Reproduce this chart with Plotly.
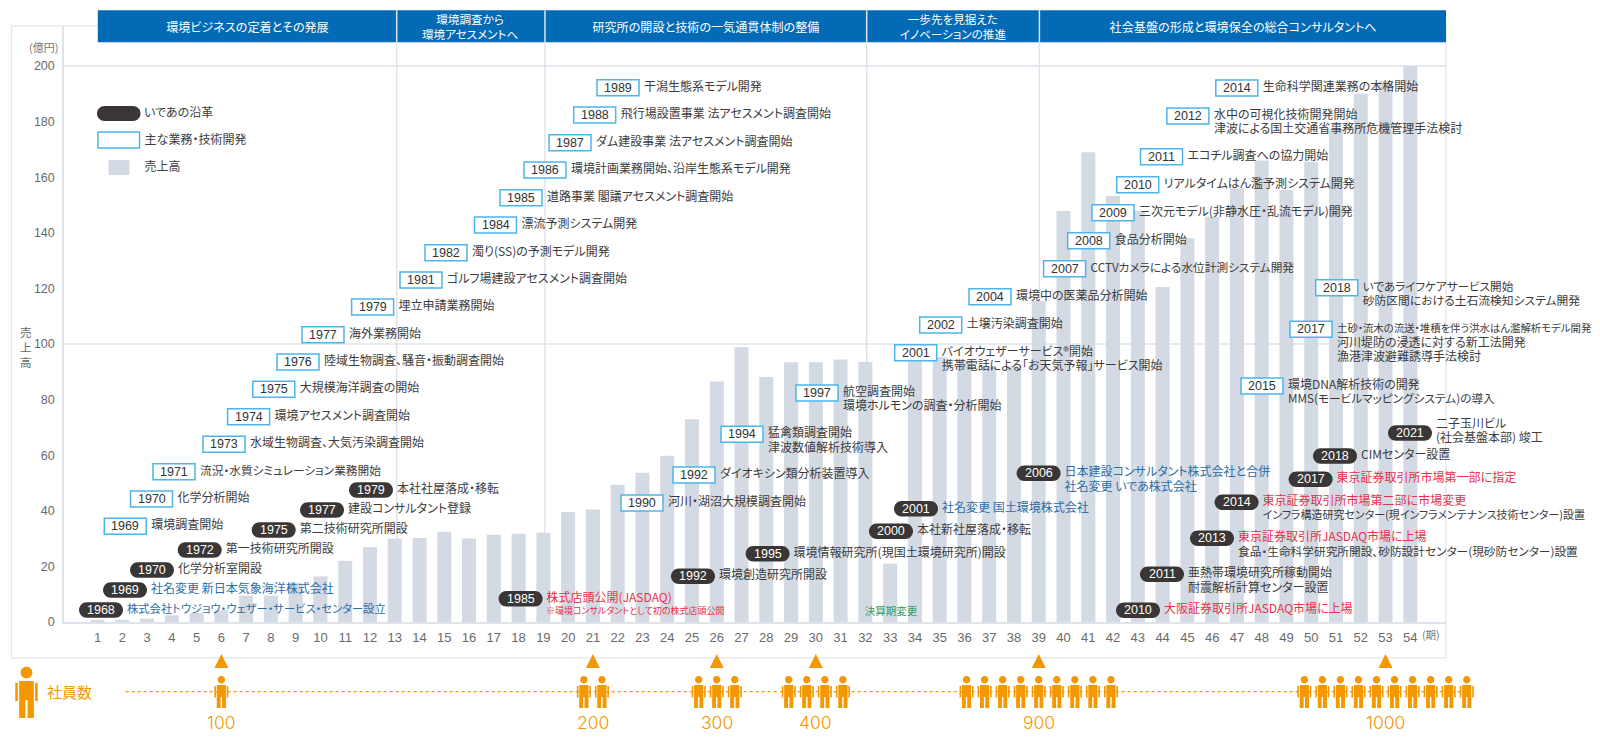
import plotly.graph_objects as go

# ---------- data ----------
PERIODS = list(range(1, 55))
SALES = [0.4, 0.8, 1.2, 2.4, 3.2, 4.2, 9.5, 9.5, 14.1, 16.4, 22, 26.9, 30, 30.2, 32.5, 30, 31.4, 31.7,
         32.1, 39.6, 40.5, 49.4, 53.7, 59.8, 72.9, 86.5, 98.8, 88.1, 93.4, 93.4, 94.4, 93.5, 21,
         96, 95.3, 94, 92, 92, 115.5, 147.8, 169, 153.2, 147.8, 120.5, 138, 145.8, 156, 166, 155.4,
         165.6, 177, 190, 194.6, 200]
Y_TICKS = [0, 20, 40, 60, 80, 100, 120, 140, 160, 180, 200]
GRID_VALUES = [100, 200]
EMPLOYEES = [100, 200, 300, 400, 900, 1000]
EMPLOYEE_PERIODS = [6, 21, 26, 30, 39, 53]

ERA_TITLES = ["環境ビジネスの定着とその発展", "環境調査から<br>環境アセスメントへ",
              "研究所の開設と技術の一気通貫体制の整備", "一歩先を見据えた<br>イノベーションの推進",
              "社会基盤の形成と環境保全の総合コンサルタントへ"]
ERA_EDGES = [97.8, 396.7, 545, 866.7, 1039.4, 1446]

BOX_YEARS = ["1969", "1970", "1971", "1973", "1974", "1975", "1976", "1977", "1979", "1981", "1982", "1984",
             "1985", "1986", "1987", "1988", "1989", "1990", "1992", "1994", "1997", "2001", "2002", "2004",
             "2007", "2008", "2009", "2010", "2011", "2012", "2014", "2015", "2017", "2018"]
BOX_LEFT = [104.3, 130.5, 153, 203, 227.6, 252.8, 277, 302, 351.6, 400, 425, 474.5,
            500, 524, 549, 573.7, 597, 621, 673, 721, 796, 894.7, 919.7, 969,
            1043.6, 1067.7, 1092, 1116.7, 1140.5, 1166.9, 1215.8, 1241, 1290, 1315.7]
BOX_Y = [526.3, 499, 471.7, 444.3, 416.7, 389.3, 362, 334.7, 307, 280, 252.7, 225,
         197.7, 170, 142.7, 115, 87.7, 503, 475, 434.3, 393, 352.7, 325, 296.7,
         268.7, 240.7, 212.7, 184.7, 156.7, 116, 88, 386, 329.3, 287.7]
BOX_TEXT = [["環境調査開始"], ["化学分析開始"], ["流況・水質シミュレーション業務開始"], ["水域生物調査、大気汚染調査開始"],
            ["環境アセスメント調査開始"], ["大規模海洋調査の開始"], ["陸域生物調査、騒音・振動調査開始"], ["海外業務開始"],
            ["埋立申請業務開始"], ["ゴルフ場建設アセスメント調査開始"], ["濁り(SS)の予測モデル開発"], ["漂流予測システム開発"],
            ["道路事業 閣議アセスメント調査開始"], ["環境計画業務開始、沿岸生態系モデル開発"], ["ダム建設事業 法アセスメント調査開始"],
            ["飛行場設置事業 法アセスメント調査開始"], ["干潟生態系モデル開発"], ["河川・湖沼大規模調査開始"],
            ["ダイオキシン類分析装置導入"], ["猛禽類調査開始", "津波数値解析技術導入"], ["航空調査開始", "環境ホルモンの調査・分析開始"],
            ["バイオウェザーサービス®開始", "携帯電話による「お天気予報」サービス開始"], ["土壌汚染調査開始"], ["環境中の医薬品分析開始"],
            ["CCTVカメラによる水位計測システム開発"], ["食品分析開始"], ["三次元モデル(非静水圧・乱流モデル)開発"],
            ["リアルタイムはん濫予測システム開発"], ["エコチル調査への協力開始"],
            ["水中の可視化技術開発開始", "津波による国土交通省事務所危機管理手法検討"], ["生命科学関連業務の本格開始"],
            ["環境DNA解析技術の開発", "MMS(モービルマッピングシステム)の導入"],
            ["土砂・流木の流送・堆積を伴う洪水はん濫解析モデル開発", "河川堤防の浸透に対する新工法開発", "漁港津波避難誘導手法検討"],
            ["いであライフケアサービス開始", "砂防区間における土石流検知システム開発"]]

PILL_YEARS = ["1968", "1969", "1970", "1972", "1975", "1977", "1979", "1985", "1992", "1995", "2000", "2001",
              "2006", "2010", "2011", "2013", "2014", "2017", "2018", "2021"]
PILL_LEFT = [79, 103, 130, 177.7, 251.7, 300, 349, 498.6, 671, 745.6, 869, 894,
             1016.6, 1116, 1140, 1190, 1214.6, 1288.6, 1313, 1388]
PILL_Y = [610, 590, 570, 550, 530, 510, 490, 598.7, 576.3, 553.7, 531.3, 508.7,
          473.3, 610.3, 574.3, 538.3, 502.3, 479.3, 456, 433]
PILL_TEXT = [["株式会社トウジョウ・ウェザー・サービス・センター設立"], ["社名変更 新日本気象海洋株式会社"], ["化学分析室開設"],
             ["第一技術研究所開設"], ["第二技術研究所開設"], ["建設コンサルタント登録"], ["本社社屋落成・移転"],
             ["株式店頭公開(JASDAQ)"], ["環境創造研究所開設"], ["環境情報研究所(現国土環境研究所)開設"],
             ["本社新社屋落成・移転"], ["社名変更 国土環境株式会社"],
             ["日本建設コンサルタント株式会社と合併", "社名変更 いであ株式会社"],
             ["大阪証券取引所JASDAQ市場に上場"], ["亜熱帯環境研究所稼動開始", "耐震解析計算センター設置"],
             ["東京証券取引所JASDAQ市場に上場", "食品・生命科学研究所開設、砂防設計センター(現砂防センター)設置"],
             ["東京証券取引所市場第二部に市場変更", "インフラ構造研究センター(現インフラメンテナンス技術センター)設置"],
             ["東京証券取引所市場第一部に指定"], ["CIMセンター設置"], ["二子玉川ビル", "(社会基盤本部) 竣工"]]
DARK, BLUE, RED, GREEN = "#3c3c3c", "#2b6ea8", "#e8304a", "#2f9e62"
PILL_COLORS = [[BLUE], [BLUE], [DARK], [DARK], [DARK], [DARK], [DARK], [RED], [DARK], [DARK], [DARK], [BLUE],
               [BLUE, BLUE], [RED], [DARK, DARK], [RED, DARK], [RED, DARK], [RED], [DARK], [DARK, DARK]]
# lines whose kana-heavy setting runs wider than the default size
SIZE_OVERRIDE = {"株式会社トウジョウ・ウェザー・サービス・センター設立": 11.3,
                 "土砂・流木の流送・堆積を伴う洪水はん濫解析モデル開発": 10.4,
                 "インフラ構造研究センター(現インフラメンテナンス技術センター)設置": 11.0,
                 "食品・生命科学研究所開設、砂防設計センター(現砂防センター)設置": 11.7,
                 "CCTVカメラによる水位計測システム開発": 11.7,
                 "MMS(モービルマッピングシステム)の導入": 11.7,
                 "砂防区間における土石流検知システム開発": 11.8,
                 "いであライフケアサービス開始": 11.6,
                 "流況・水質シミュレーション業務開始": 11.7}

# ---------- geometry ----------
L, R, T, B = 64, 1446, 26, 622
PX0, PX_STEP, PX_PER_UNIT = 97.5, 24.77, 2.78
ORANGE = "#f39800"
LAV = "#dfe3ec"
PANEL = "#e8eaef"
PILLC = "#3a3635"
BOXC = "#4cb5ec"
JP = "Noto Sans CJK JP"
NUM = "Liberation Sans"
BASE = 12.0


def X(px):
    return (px - L) / (R - L)


def Y(py):
    return (B - py) / (B - T)


def dx(px):
    return 1 + (px - PX0) / PX_STEP


def dy(py):
    return (B - py) / PX_PER_UNIT


def P(px, py):
    return f"{X(px):.6f},{Y(py):.6f}"


def pill_path(x0, x1, yc, h=15.5):
    r = h / 2
    k = r * 0.5523
    t, b = yc - r, yc + r
    return (f"M{P(x0 + r, t)} L{P(x1 - r, t)} C{P(x1 - r + k, t)} {P(x1, yc - k)} {P(x1, yc)} "
            f"C{P(x1, yc + k)} {P(x1 - r + k, b)} {P(x1 - r, b)} L{P(x0 + r, b)} "
            f"C{P(x0 + r - k, b)} {P(x0, yc + k)} {P(x0, yc)} C{P(x0, yc - k)} {P(x0 + r - k, t)} {P(x0 + r, t)} Z")


def rect_path(x0, x1, y0, y1):
    return f"M{P(x0, y0)} L{P(x1, y0)} L{P(x1, y1)} L{P(x0, y1)} Z"


def person_path(cx, top, s=1.0):
    r = 3.7 * s
    hy = top + r
    k = r * 0.5523
    head = (f"M{P(cx, hy - r)} C{P(cx + k, hy - r)} {P(cx + r, hy - k)} {P(cx + r, hy)} "
            f"C{P(cx + r, hy + k)} {P(cx + k, hy + r)} {P(cx, hy + r)} "
            f"C{P(cx - k, hy + r)} {P(cx - r, hy + k)} {P(cx - r, hy)} "
            f"C{P(cx - r, hy - k)} {P(cx - k, hy - r)} {P(cx, hy - r)} Z")
    pts = [(-4.6, 9), (4.6, 9), (4.6, 32), (0.7, 32), (0.7, 21), (-0.7, 21), (-0.7, 32), (-4.6, 32)]
    body = "M" + " L".join(P(cx + a * s, top + b * s) for a, b in pts) + " Z"
    arm_l = rect_path(cx - 7 * s, cx - 5.4 * s, top + 10 * s, top + 21.5 * s)
    arm_r = rect_path(cx + 5.4 * s, cx + 7 * s, top + 10 * s, top + 21.5 * s)
    return " ".join([head, body, arm_l, arm_r])


shapes = []
annotations = []
tx, ty, tt, tc, ts = [], [], [], [], []


def left_text(px, py, text, color=DARK, size=None):
    tx.append(dx(px)); ty.append(dy(py)); tt.append(text); tc.append(color)
    ts.append(size or SIZE_OVERRIDE.get(text, BASE))


def note(px, py, text, color, size=12.5, family=NUM, anchor="center", weight=None):
    f = dict(family=family, size=size, color=color)
    if weight:
        f["weight"] = weight
    annotations.append(dict(xref="paper", yref="paper", x=X(px), y=Y(py), text=text, showarrow=False,
                            font=f, xanchor=anchor, yanchor="middle"))


def line(x0, y0, x1, y1, color, width, dash=None):
    shapes.append(dict(type="line", xref="paper", yref="paper", x0=X(x0), y0=Y(y0), x1=X(x1), y1=Y(y1),
                       layer="below", line=dict(color=color, width=width, dash=dash or "solid")))


def fill_path(path, color, layer="above", lc=None, lw=0):
    shapes.append(dict(type="path", xref="paper", yref="paper", path=path, fillcolor=color, layer=layer,
                       line=dict(color=lc or color, width=lw)))


# outer panel
shapes.append(dict(type="rect", xref="paper", yref="paper", x0=X(11.4), x1=X(R), y0=Y(658), y1=Y(T),
                   layer="below", line=dict(color=PANEL, width=1.5), fillcolor="rgba(0,0,0,0)"))
# grid lines
for v in GRID_VALUES:
    py = B - v * PX_PER_UNIT
    line(L, py, R, py, LAV, 1.5)
# era bands and titles
for i, title in enumerate(ERA_TITLES):
    a, b = ERA_EDGES[i], ERA_EDGES[i + 1]
    shapes.append(dict(type="rect", xref="paper", yref="paper", x0=X(a), x1=X(b), y0=Y(42.3), y1=Y(10.3),
                       layer="below", fillcolor="#036ab5", line=dict(width=0)))
    note((a + b) / 2, 26.5, title, "white", 11.6 if "<br>" in title else 12.1, JP)
for e in ERA_EDGES[1:-1]:
    line(e, 10.3, e, B, LAV, 1.5)

# legend
fill_path(pill_path(97, 140.5, 113.5, 15), PILLC)
left_text(144, 114, "いであの沿革")
shapes.append(dict(type="rect", xref="paper", yref="paper", x0=X(98), x1=X(139.5), y0=Y(148), y1=Y(132),
                   layer="above", fillcolor="white", line=dict(color=BOXC, width=1.5)))
left_text(144.6, 141, "主な業務・技術開発")
shapes.append(dict(type="rect", xref="paper", yref="paper", x0=X(108.5), x1=X(129.5), y0=Y(175), y1=Y(160),
                   layer="below", fillcolor="#d3dae4", line=dict(width=0)))
left_text(144.6, 168, "売上高")

# milestone boxes
for yr, lf, yy, lines in zip(BOX_YEARS, BOX_LEFT, BOX_Y, BOX_TEXT):
    shapes.append(dict(type="rect", xref="paper", yref="paper", x0=X(lf), x1=X(lf + 42), y0=Y(yy + 8), y1=Y(yy - 8),
                       layer="above", fillcolor="white", line=dict(color=BOXC, width=1.5)))
    note(lf + 21, yy, yr, "#333333")
    for j, s in enumerate(lines):
        left_text(lf + 47, yy + j * 14.4, s)

# milestone pills
for yr, lf, yy, lines, cols in zip(PILL_YEARS, PILL_LEFT, PILL_Y, PILL_TEXT, PILL_COLORS):
    fill_path(pill_path(lf, lf + 44, yy), PILLC)
    note(lf + 22, yy, yr, "white")
    top = yy - 8 if yr == "2021" else yy
    for j, (s, c) in enumerate(zip(lines, cols)):
        left_text(lf + 48, top + j * 14.4, s, c)

left_text(546, 612, "※環境コンサルタントとして初の株式店頭公開", RED, 9)
left_text(864.7, 612.5, "決算期変更", GREEN, 10.5)

# axis notes
note(43, 47, "(億円)", "#777777", 11, JP)
note(1431, 634, "(期)", "#777777", 10.5, JP)
note(26, 347, "売<br>上<br>高", "#666666", 11.5, JP)

# employees row
line(125.7, 691.7, 1466, 691.7, ORANGE, 1.2, "dot")
fill_path(person_path(26.5, 666.7, 1.6), ORANGE)
note(45, 691, "社員数", ORANGE, 15, JP, "left")
for n, p in zip(EMPLOYEES, EMPLOYEE_PERIODS):
    c = PX0 + (p - 1) * PX_STEP
    count = n // 100
    for i in range(count):
        fill_path(person_path(c + (i - (count - 1) / 2) * 18.05, 676), ORANGE)
    tri = f"M{P(c, 654)} L{P(c + 7, 668)} L{P(c - 7, 668)} Z"
    fill_path(tri, ORANGE)
    note(c, 722.7, str(n), ORANGE, 17.5, "Inter", weight=300)

fig = go.Figure()
fig.add_bar(x=PERIODS, y=SALES, width=0.565, marker=dict(color="#d3dae4", line=dict(width=0)), name="売上高",
            hoverinfo="skip")
fig.add_scatter(x=tx, y=ty, text=tt, mode="text", textposition="middle right", cliponaxis=False, hoverinfo="skip",
                textfont=dict(family=JP, size=ts, color=tc))

fig.update_layout(
    width=1600, height=740, margin=dict(l=L, r=1600 - R, t=T, b=740 - B, pad=0, autoexpand=False),
    paper_bgcolor="white", plot_bgcolor="white", showlegend=False,
    shapes=shapes, annotations=annotations,
    xaxis=dict(range=[dx(L), dx(R)], tickmode="array", tickvals=PERIODS, ticktext=[str(p) for p in PERIODS],
               showgrid=False, zeroline=False, showline=True, linecolor=LAV, linewidth=1.5, ticks="",
               ticklabelstandoff=3, tickfont=dict(family=NUM, size=13, color="#6a6a6a")),
    yaxis=dict(range=[0, dy(T)], tickmode="array", tickvals=Y_TICKS, showgrid=False, zeroline=False,
               showline=True, linecolor=LAV, linewidth=1.5, ticks="", ticklabelstandoff=5,
               tickfont=dict(family=NUM, size=12.5, color="#6a6a6a")),
)

POST = ("var s=document.createElement('style');"
        "s.textContent='body{margin:0;overflow:hidden} svg text{font-feature-settings:\"palt\" 1}';"
        "document.head.appendChild(s);")
fig.write_html("out.html", post_script=POST, config={"displayModeBar": False})
